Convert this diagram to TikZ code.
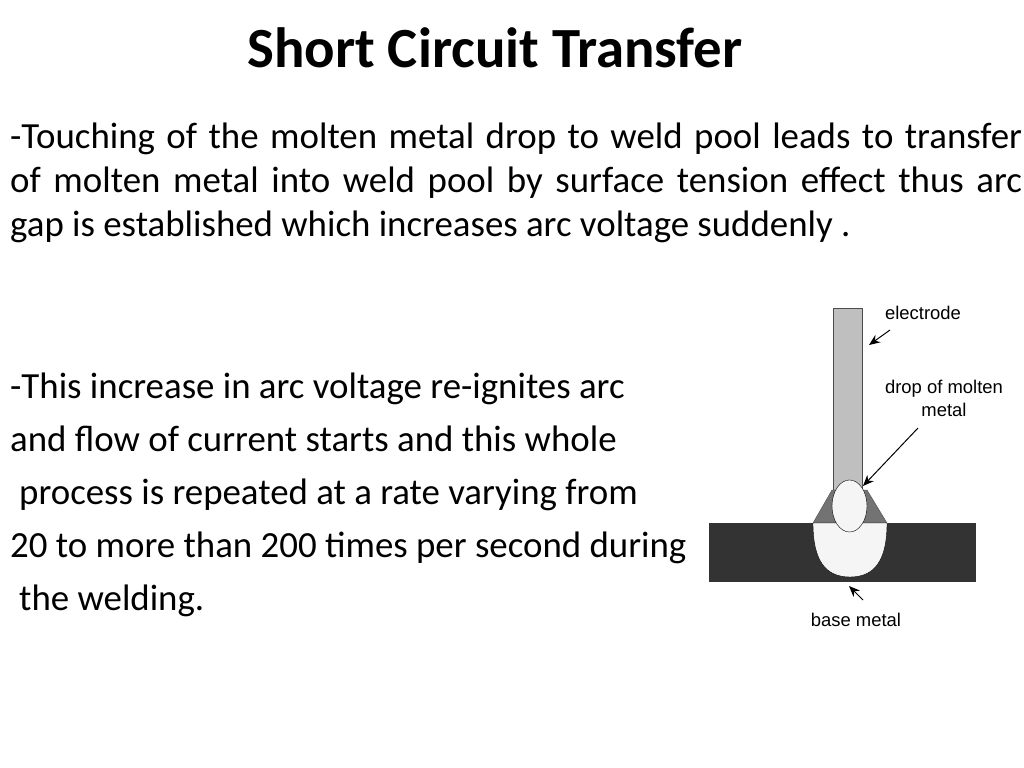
\documentclass[tikz,border=0pt]{standalone}
\usepackage{fontspec}
\setmainfont{Carlito}
\newfontfamily\labelfont{Liberation Sans}
\usetikzlibrary{arrows.meta}
\tikzset{
  body/.style={anchor=base west,inner sep=0pt,font=\fontsize{37}{44}\selectfont},
  tag/.style={inner sep=0pt,align=center,font=\labelfont\fontsize{18.5}{23}\selectfont},
  pointer/.style={-{Stealth[length=11bp,width=9bp]},line width=1bp}
}
\begin{document}
\begin{tikzpicture}[x=1bp,y=-1bp]
  \useasboundingbox (0,0) rectangle (1024,768);
  \node [font=\bfseries\fontsize{57}{60}\selectfont] (title) at (495,48) {Short Circuit Transfer};
  \node [anchor=north west,inner sep=0pt,text width=1012bp,align=justify,
         font=\fontsize{37}{44}\selectfont] (para) at (10,123)
    {-Touching of the molten metal drop to weld pool leads to transfer\linebreak of molten metal into weld pool by surface tension effect thus arc\linebreak gap is established which increases arc voltage suddenly .};
  \node [body] (l1) at (10,398) {-This increase in arc voltage re-ignites arc};
  \node [body] (l2) at (10,451) {and flow of current starts and this whole};
  \node [body] (l3) at (19,504) {process is repeated at a rate varying from};
  \node [body] (l4) at (10,557) {20 to more than 200 times per second during};
  \node [body] (l5) at (19,610) {the welding.};
  % sketch of the weld
  \fill [black!25,draw=black!70] (833,308) rectangle (862,490);
  \fill [black!80] (709,523) rectangle (976,582);
  \filldraw [fill=black!55,draw=black!70] (813,523) -- (832,490) -- (867,490) -- (887,523) -- cycle;
  \filldraw [fill=black!4,draw=black] (813,523) -- (887,523) .. controls (887,560) and (875,577) .. (850,577)
    .. controls (825,577) and (813,560) .. (813,523) -- cycle;
  \filldraw [fill=black!4,draw=black] (849.5,506) ellipse [x radius=17.5,y radius=26];
  \coordinate (electrodetip) at (869,345);
  \coordinate (droptip) at (863,486);
  \coordinate (basetip) at (849,586);
  \node [tag] (electrode) at (923,313) {electrode};
  \node [tag] (drop) at (944,398) {drop of molten\\metal};
  \node [tag] (base) at (856,620) {base metal};
  \draw [pointer] (890,330) -- (electrodetip);
  \draw [pointer] (918,428) -- (droptip);
  \draw [pointer] (863,600) -- (basetip);
\end{tikzpicture}
\end{document}
